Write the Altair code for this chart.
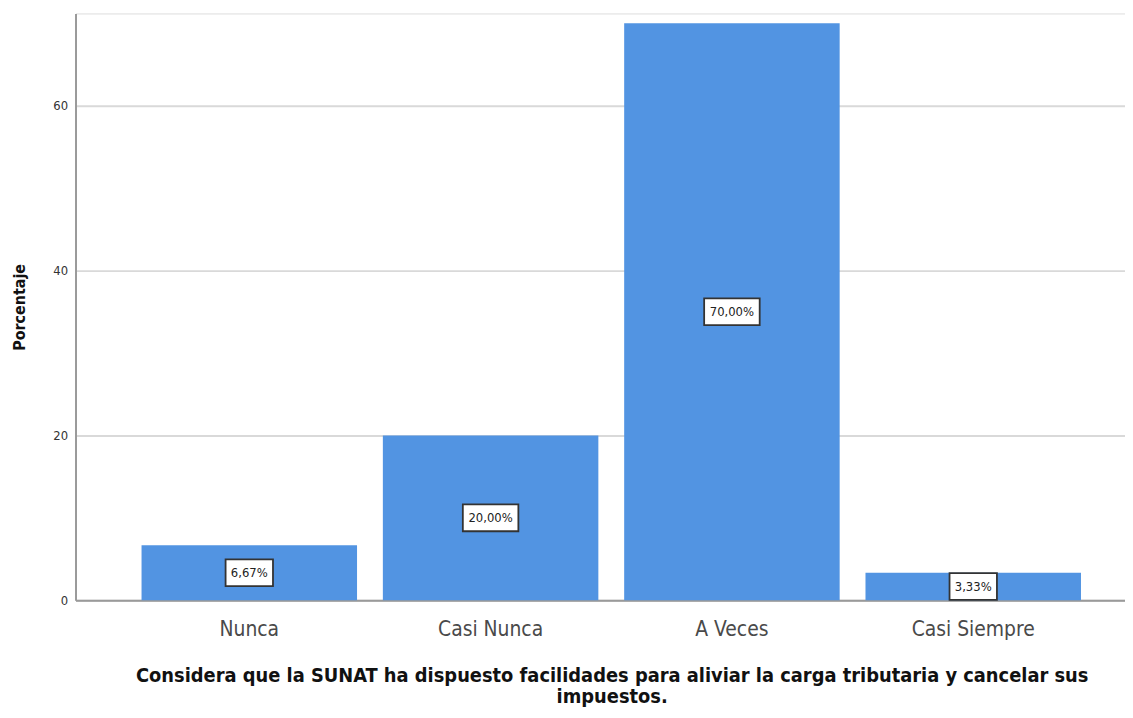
import altair as alt
import pandas as pd

categories = ["Nunca", "Casi Nunca", "A Veces", "Casi Siempre"]
percentages = [6.67, 20.00, 70.00, 3.33]
labels = ["6,67%", "20,00%", "70,00%", "3,33%"]
y_ticks = [0, 20, 40, 60]
x_title = ["Considera que la SUNAT ha dispuesto facilidades para aliviar la carga tributaria y cancelar sus",
           "impuestos."]
y_title = "Porcentaje"

df = pd.DataFrame({"cat": categories, "pct": percentages, "label": labels})

FONT = "Liberation Sans Narrow, Arial Narrow, DejaVu Sans Condensed, Liberation Sans, sans-serif"

x_enc = alt.X("cat:N", sort=categories, title=x_title,
              scale=alt.Scale(paddingInner=0.107, paddingOuter=0.228, align=0.6),
              axis=alt.Axis(labelAngle=0, labelFontSize=21, labelColor="#4a4a4a", labelFont=FONT,
                            labelPadding=18, ticks=False, domainColor="#9a9a9a", domainWidth=2,
                            titleFont=FONT, titleFontSize=20, titleFontWeight="bold", titleColor="#111111",
                            titlePadding=27, titleLineHeight=21, titleX=540, grid=False))
y_scale = alt.Scale(domain=[0, 71.2], nice=False)

bars = alt.Chart(df).mark_bar(color="#5294E2").encode(
    x=x_enc,
    y=alt.Y("pct:Q", scale=y_scale, title=y_title,
            axis=alt.Axis(values=y_ticks, ticks=False, labelFontSize=13, labelColor="#333333",
                          labelFont=FONT, labelPadding=8, domainColor="#9a9a9a", domainWidth=2,
                          gridColor="#d9d9d9", gridWidth=2,
                          titleFont=FONT, titleFontSize=16, titleFontWeight="bold", titleColor="#111111",
                          titlePadding=25)),
)

base = alt.Chart(df).transform_calculate(
    mid="datum.pct / 2",
    hw="(length(datum.label) * 8.5 + 7) / 28",
    path="'M' + (-datum.hw) + ',-1H' + datum.hw + 'V1H' + (-datum.hw) + 'Z'",
)

boxes = base.mark_point(filled=True, fill="white", stroke="#333333", strokeWidth=1.8,
                        opacity=1, size=27 * 27).encode(
    x=alt.X("cat:N", sort=categories),
    y=alt.Y("mid:Q", scale=y_scale),
    shape=alt.Shape("path:N", scale=None),
)

texts = base.mark_text(font=FONT, fontSize=13, color="#222222").encode(
    x=alt.X("cat:N", sort=categories),
    y=alt.Y("mid:Q", scale=y_scale),
    text="label:N",
)

chart = alt.layer(bars, boxes, texts).properties(
    width=1057, height=591,
    autosize=alt.AutoSizeParams(type="none"),
    padding={"left": 68, "top": 3, "right": 0, "bottom": 106},
).configure_view(stroke=None).configure(background="white")

chart.save("out.html", embed_options={"renderer": "svg", "actions": False})
